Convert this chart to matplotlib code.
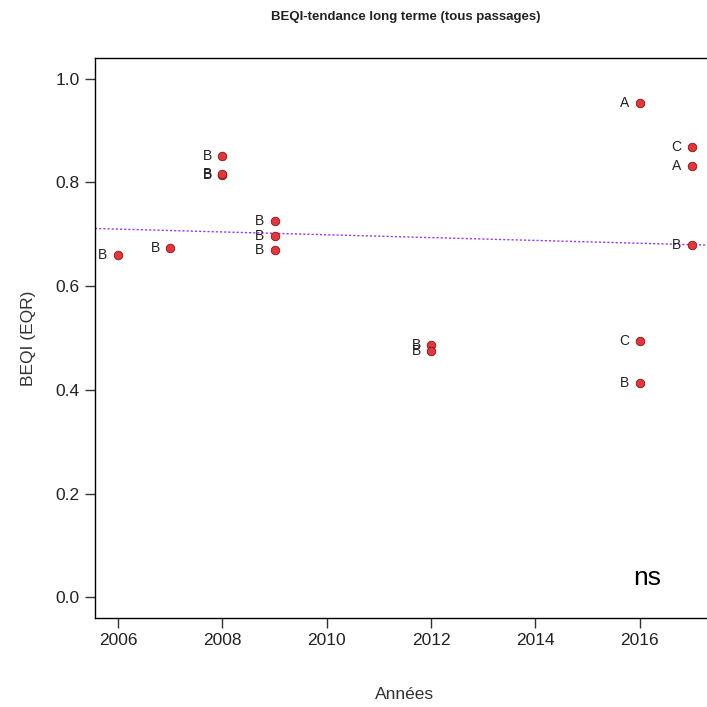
import matplotlib
matplotlib.use("Agg")
import matplotlib.pyplot as plt

plt.rcParams['font.family'] = ['Liberation Sans', 'DejaVu Sans']

years = [2006, 2007, 2008, 2008, 2008, 2009, 2009, 2009, 2012, 2012,
         2016, 2016, 2016, 2017, 2017, 2017]
beqi = [0.661, 0.673, 0.851, 0.815, 0.816, 0.725, 0.696, 0.669, 0.487, 0.474,
        0.954, 0.495, 0.414, 0.868, 0.832, 0.679]
labels = ['B', 'B', 'B', 'B', 'B', 'B', 'B', 'B', 'B', 'B',
          'A', 'C', 'B', 'C', 'A', 'B']
trend_years = [2006, 2017]
trend_vals = [0.710, 0.680]
x_ticks = [2006, 2008, 2010, 2012, 2014, 2016]
y_ticks = [0.0, 0.2, 0.4, 0.6, 0.8, 1.0]

fig = plt.figure(figsize=(7.07, 7.07), dpi=100)
W = H = 707
ax = fig.add_axes([95 / W, 1 - 618 / H, (715 - 95) / W, (618 - 58) / H])

ax.set_xlim(2005.56, 2017.44)
ax.set_ylim(-0.04, 1.04)

ax.axline((trend_years[0], trend_vals[0]), (trend_years[1], trend_vals[1]),
          color='#9B30FF', linestyle=(0, (1.5, 1.5)), linewidth=1.0, zorder=1)

ax.scatter(years, beqi, s=38, facecolor='#E8343A', edgecolor='#7a1a1a',
           linewidth=0.6, zorder=3)
for x, y, t in zip(years, beqi, labels):
    ax.annotate(t, (x, y), xytext=(-7.5, 0), textcoords='offset points',
                ha='right', va='center', fontsize=10, color='#222222')

ax.text(2016.15, 0.037, 'ns', fontsize=19, ha='center', va='center', color='black')

ax.set_xticks(x_ticks)
ax.set_yticks(y_ticks)
ax.set_xticklabels([str(v) for v in x_ticks])
ax.set_yticklabels([f'{v:.1f}' for v in y_ticks])
ax.tick_params(direction='out', length=7, width=1, labelsize=12.5,
               colors='#333333', labelcolor='#222222', pad=4)
for s in ['left', 'bottom', 'top']:
    ax.spines[s].set_color('black')
    ax.spines[s].set_linewidth(1.0)
ax.spines['right'].set_visible(False)

ax.set_ylabel('BEQI (EQR)', fontsize=12.5, color='#333333', labelpad=14)
ax.set_xlabel('Années', fontsize=12.5, color='#333333', labelpad=28)
fig.text(406 / W, 1 - 17 / H, 'BEQI-tendance long terme (tous passages)',
         ha='center', va='center', fontsize=9.5, fontweight='bold', color='#222222')

fig.savefig('out.png', dpi=100)
